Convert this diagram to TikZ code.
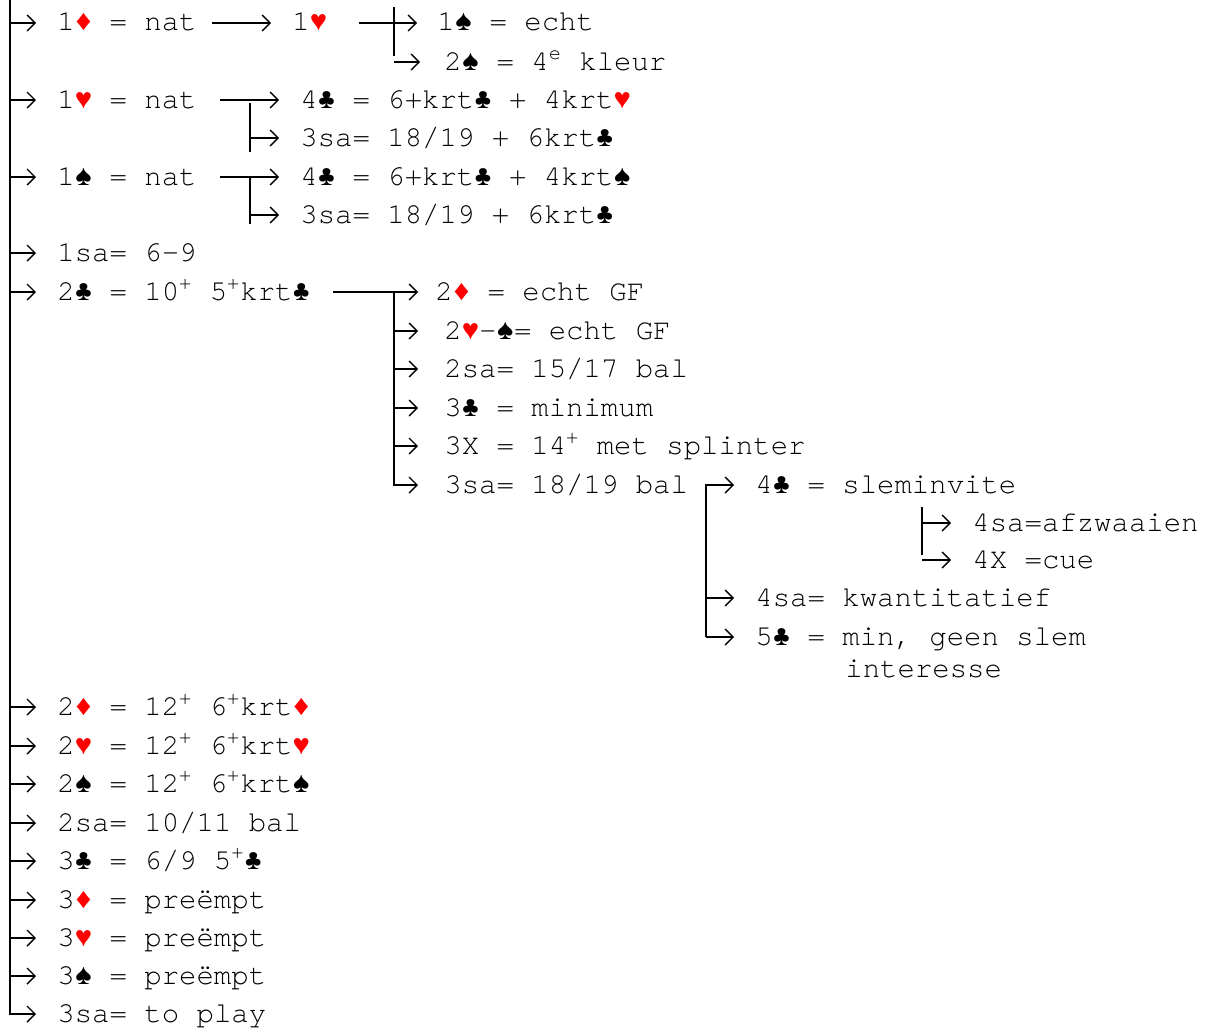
\documentclass[tikz,border=0pt]{standalone}
\usepackage{fontspec}
\usepackage{xcolor}
\usepackage{tikz}
\usetikzlibrary{arrows.meta}
\IfFontExistsTF{TeX Gyre Cursor}{\setmainfont{TeX Gyre Cursor}}{\setmainfont{Liberation Mono}}
\newfontfamily\kaart{Liberation Mono}
\newcommand{\ruiten}{\textcolor{red}{\kaart ♦}}
\newcommand{\harten}{\textcolor{red}{\kaart ♥}}
\newcommand{\schoppen}{{\kaart ♠}}
\newcommand{\klaveren}{{\kaart ♣}}
\newcommand{\plus}{\textsuperscript{+}}

\tikzset{
    tekst/.style={anchor=west, inner sep=0pt, text height=8pt, text depth=0pt,
        font=\fontsize{14.5}{17}\selectfont},
    pijl/.style={-{Straight Barb[length=4pt,width=8pt]}, line width=0.7pt, shorten >=10.5pt},
    bus/.style={line width=0.9pt},
    stam/.style={line width=1.2pt}
}

\begin{document}
\begin{tikzpicture}[x=0.5pt,y=-0.5pt]
    \useasboundingbox (0,0) rectangle (1210,1028);

    \node[tekst] (m1) at (57,23) {1\ruiten{} = nat};
    \node[tekst] (m2) at (57,100) {1\harten{} = nat};
    \node[tekst] (m3) at (57,177) {1\schoppen{} = nat};
    \node[tekst] (m4) at (57,253) {1sa= 6-9};
    \node[tekst] (m5) at (57,292) {2\klaveren{} = 10\plus{} 5\plus krt\klaveren};
    \node[tekst] (m6) at (57,707) {2\ruiten{} = 12\plus{} 6\plus krt\ruiten};
    \node[tekst] (m7) at (57,746) {2\harten{} = 12\plus{} 6\plus krt\harten};
    \node[tekst] (m8) at (57,784) {2\schoppen{} = 12\plus{} 6\plus krt\schoppen};
    \node[tekst] (m9) at (57,823) {2sa= 10/11 bal};
    \node[tekst] (m10) at (57,861) {3\klaveren{} = 6/9 5\plus\klaveren};
    \node[tekst] (m11) at (57,900) {3\ruiten{} = preëmpt};
    \node[tekst] (m12) at (57,938) {3\harten{} = preëmpt};
    \node[tekst] (m13) at (57,976) {3\schoppen{} = preëmpt};
    \node[tekst] (m14) at (57,1014) {3sa= to play};

    \node[tekst] (a1h) at (292,23) {1\harten};
    \node[tekst] (a1s) at (437,23) {1\schoppen{} = echt};
    \node[tekst] (a2s) at (444,62) {2\schoppen{} = 4\textsuperscript{e} kleur};

    \node[tekst] (b4c) at (300,100) {4\klaveren{} = 6+krt\klaveren{} + 4krt\harten};
    \node[tekst] (b3nt) at (300,138) {3sa= 18/19 + 6krt\klaveren};
    \node[tekst] (c4c) at (300,177) {4\klaveren{} = 6+krt\klaveren{} + 4krt\schoppen};
    \node[tekst] (c3nt) at (300,215) {3sa= 18/19 + 6krt\klaveren};

    \node[tekst] (d2d) at (435,292) {2\ruiten{} = echt GF};
    \node[tekst] (d2h) at (444,331) {2\harten-\schoppen= echt GF};
    \node[tekst] (d2nt) at (444,369) {2sa= 15/17 bal};
    \node[tekst] (d3c) at (444,408) {3\klaveren{} = minimum};
    \node[tekst] (d3x) at (444,446) {3X = 14\plus{} met splinter};
    \node[tekst] (d3nt) at (444,485) {3sa= 18/19 bal};

    \node[tekst] (e4c) at (755,485) {4\klaveren{} = sleminvite};
    \node[tekst] (e4nt) at (755,598) {4sa= kwantitatief};
    \node[tekst] (e5c) at (755,637) {5\klaveren{} = min, geen slem};
    \node[tekst] (e5cb) at (845,669) {interesse};

    \node[tekst] (f4nt) at (972,523) {4sa=afzwaaien};
    \node[tekst] (f4x) at (972,560) {4X =cue};

    \coordinate (top) at (10,0);
    \coordinate (bodem) at (10,1015);
    \draw[stam] (top) -- (bodem);
    \foreach \n in {m1,m2,m3,m4,m5,m6,m7,m8,m9,m10,m11,m12,m13,m14}
        \draw[pijl] (top |- \n.west) -- (\n.west);

    \draw[pijl] ([xshift=7.5pt]m1.east) -- (a1h.west);
    \draw[pijl, shorten >=10pt] ([xshift=15.5pt]a1h.east) -- (a1s.west);
    \coordinate (k1a) at (394,7);
    \coordinate (k1b) at (394,56);
    \draw[bus] (k1a) -- (k1b);
    \draw[pijl, shorten >=12pt] (k1b |- a2s.west) -- (a2s.west);

    \draw[pijl] ([xshift=11.5pt]m2.east) -- (b4c.west);
    \coordinate (k2a) at (250,103);
    \coordinate (k2b) at (250,152);
    \draw[bus] (k2a) -- (k2b);
    \draw[pijl] (k2a |- b3nt.west) -- (b3nt.west);

    \draw[pijl] ([xshift=11.5pt]m3.east) -- (c4c.west);
    \coordinate (k3a) at (250,176);
    \coordinate (k3b) at (250,224);
    \draw[bus] (k3a) -- (k3b);
    \draw[pijl] (k3a |- c3nt.west) -- (c3nt.west);

    \draw[pijl, shorten >=8.5pt] ([xshift=11.5pt]m5.east) -- (d2d.west);
    \coordinate (k4a) at (394,292);
    \coordinate (k4b) at (394,486);
    \draw[bus] (k4a) -- (k4b);
    \foreach \n in {d2h,d2nt,d3c,d3x,d3nt}
        \draw[pijl, shorten >=13pt] (k4a |- \n.west) -- (\n.west);

    \coordinate (k5a) at (706,484);
    \coordinate (k5b) at (706,637);
    \draw[bus] (k5a) -- (k5b);
    \foreach \n in {e4c,e4nt,e5c}
        \draw[pijl] (k5a |- \n.west) -- (\n.west);

    \coordinate (k6a) at (922,507);
    \coordinate (k6b) at (922,555);
    \draw[bus] (k6a) -- (k6b);
    \foreach \n in {f4nt,f4x}
        \draw[pijl] (k6a |- \n.west) -- (\n.west);
\end{tikzpicture}
\end{document}
